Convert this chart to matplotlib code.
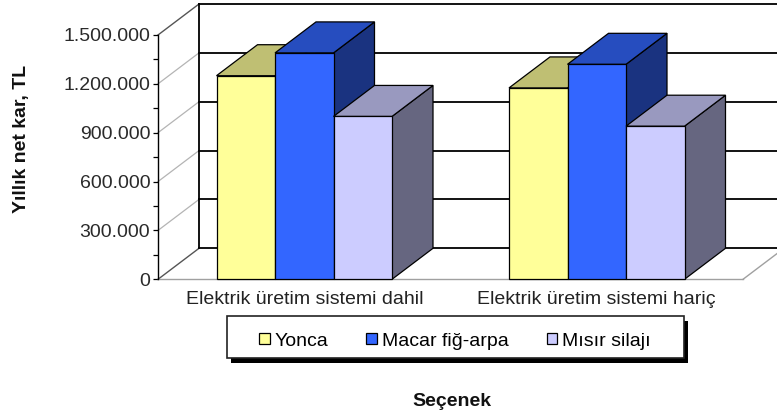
import matplotlib
matplotlib.use("Agg")
import matplotlib.pyplot as plt
import numpy as np
from matplotlib.patches import Polygon, Rectangle, Patch
from matplotlib.lines import Line2D
from matplotlib.transforms import IdentityTransform
from matplotlib.ticker import FuncFormatter, MultipleLocator

plt.rcParams['font.family'] = ['Liberation Sans', 'DejaVu Sans']

# ---- data -------------------------------------------------------------
categories = ["Elektrik üretim sistemi dahil", "Elektrik üretim sistemi hariç"]
series_names = ["Yonca", "Macar fiğ-arpa", "Mısır silajı"]
yonca = [1250000, 1175000]
macar_fig_arpa = [1390000, 1320000]
misir_silaji = [1000000, 940000]
yticks = [0, 300000, 600000, 900000, 1200000, 1500000]

series_values = [yonca, macar_fig_arpa, misir_silaji]
face_colors = ["#FFFF99", "#3366FF", "#CCCCFF"]

# ---- figure / axes ----------------------------------------------------
W, H, DPI = 777, 415, 100
fig = plt.figure(figsize=(W / DPI, H / DPI), dpi=DPI)
ax = fig.add_axes([158 / W, 1 - 279.3 / H, (743 - 158) / W, (279.3 - 35) / H])
ax.set_xlim(0, 2)
ax.set_ylim(0, 1500000)
ax.patch.set_visible(False)

DEPTH = np.array([41.0, 31.0])   # oblique shift of the back plane (pixels)
IDT = IdentityTransform()


def P(x, y, d):
    """Project a point (x, y) at depth d (0 = front, 1 = back) to pixels."""
    return ax.transData.transform((x, y)) + d * DEPTH


def shade(color, k):
    r, g, b = matplotlib.colors.to_rgb(color)
    return (r * k, g * k, b * k)


def seg(p0, p1, color, lw, z):
    ax.add_line(Line2D([p0[0], p1[0]], [p0[1], p1[1]], transform=IDT,
                       color=color, lw=lw, zorder=z, clip_on=False))


ymax = yticks[-1]
# side wall rungs and back wall grid
for v in yticks:
    edge = v in (0, ymax)
    seg(P(0, v, 0), P(0, v, 1), "#555555" if edge else "#b4b4b4",
        1.0 if edge else 0.9, 1)
    seg(P(0, v, 1), P(2, v, 1), "black", 1.3, 1.1)
seg(P(0, 0, 1), P(0, ymax, 1), "black", 1.3, 1.2)
seg(P(2, 0, 0), P(2, 0, 1), "#a0a0a0", 1.0, 1.2)

# ---- 3D bars ----------------------------------------------------------
bar_w = 0.2
z = 3
for j in range(len(categories)):
    for i, vals in enumerate(series_values):
        v = vals[j]
        x0 = j + 0.5 + (i - 1) * bar_w - bar_w / 2
        x1 = x0 + bar_w
        col = face_colors[i]
        side = [P(x1, 0, 0), P(x1, v, 0), P(x1, v, 1), P(x1, 0, 1)]
        top = [P(x0, v, 0), P(x1, v, 0), P(x1, v, 1), P(x0, v, 1)]
        ax.add_patch(Polygon(side, closed=True, transform=IDT, fc=shade(col, 0.5),
                             ec="black", lw=0.9, zorder=z, clip_on=False))
        ax.add_patch(Polygon(top, closed=True, transform=IDT, fc=shade(col, 0.75),
                             ec="black", lw=0.9, zorder=z + 0.1, clip_on=False))
        ax.add_patch(Rectangle((x0, 0), bar_w, v, fc=col, ec="black", lw=0.9,
                               zorder=z + 0.2, clip_on=False))
        z += 1

# ---- axes styling -----------------------------------------------------
for s in ("top", "right"):
    ax.spines[s].set_visible(False)
ax.spines["left"].set_color("black")
ax.spines["left"].set_linewidth(1.0)
ax.spines["bottom"].set_color("#a0a0a0")
ax.spines["bottom"].set_linewidth(1.0)
ax.spines["bottom"].set_zorder(2)

ax.set_yticks(yticks)
ax.yaxis.set_minor_locator(MultipleLocator(150000))
ax.yaxis.set_major_formatter(FuncFormatter(lambda v, _: f"{int(v):,}".replace(",", ".")))
ax.tick_params(axis="y", which="both", direction="out", length=3.6, width=0.9,
               color="black", pad=2, labelsize=14, labelcolor="#2a2a2a")
ax.set_xticks([0.5, 1.5])
ax.set_xticklabels(categories)
ax.tick_params(axis="x", length=0, pad=8.5, labelsize=14, labelcolor="#222222")

fig.text(22 / W, 1 - 139 / H, "Yıllık net kar, TL", rotation=90, ha="center",
         va="center", fontsize=14, fontweight="bold", color="#111111")
fig.text(452 / W, 1 - 401 / H, "Seçenek", ha="center", va="center",
         fontsize=14, fontweight="bold", color="#111111")

# ---- legend -----------------------------------------------------------
bx0, by0, bx1, by1 = 226.7, 316, 684, 358
fig.add_artist(Rectangle(((bx0 + 4) / W, 1 - (by1 + 5) / H),
                         (bx1 - bx0) / W, (by1 - by0) / H, transform=fig.transFigure,
                         fc="black", ec="black", lw=0, zorder=3.9))
fig.add_artist(Rectangle((bx0 / W, 1 - by1 / H), (bx1 - bx0) / W, (by1 - by0) / H,
                         transform=fig.transFigure, fc="white", ec="#222222",
                         lw=1.2, zorder=4))
handles = [Patch(fc=c, ec="black", lw=0.9) for c in face_colors]
fig.legend(handles, series_names, loc="center",
           bbox_to_anchor=(455 / W, 1 - 341 / H), ncol=3, frameon=False,
           fontsize=14, handlelength=0.55, handleheight=0.55,
           handletextpad=0.25, columnspacing=1.95, borderpad=0.2)

fig.savefig("out.png", dpi=DPI)
